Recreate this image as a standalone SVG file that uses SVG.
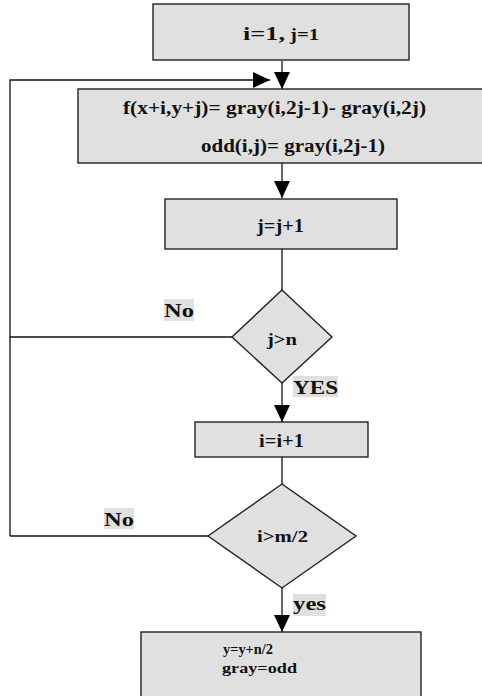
<svg xmlns="http://www.w3.org/2000/svg" width="482" height="696" viewBox="0 0 482 696">
<style>
.box{fill:#e0e0e0;stroke:#222;stroke-width:1.4}
.t{font-family:"Liberation Serif","Times New Roman",serif;font-weight:bold;fill:#111}
.c{fill:none;stroke:#111;stroke-width:1.3}
.lbl{fill:#e0e0e0}
</style>
<defs>
<marker id="ah" markerUnits="userSpaceOnUse" markerWidth="18" markerHeight="16" refX="17" refY="8" orient="auto">
<path d="M0,0 L17,8 L0,16 Z" fill="#000"/>
</marker>
</defs>
<g id="connectors">
<line class="c" x1="282" y1="61" x2="282" y2="89" marker-end="url(#ah)"/>
<polyline class="c" points="232,337 10,337 10,80 270,80" marker-end="url(#ah)"/>
<line class="c" x1="208" y1="536" x2="10" y2="536"/>
<line class="c" x1="10" y1="337" x2="10" y2="536"/>
<line class="c" x1="282" y1="163" x2="282" y2="198" marker-end="url(#ah)"/>
<line class="c" x1="282" y1="249" x2="282" y2="290"/>
<line class="c" x1="282" y1="383" x2="282" y2="422" marker-end="url(#ah)"/>
<line class="c" x1="282" y1="457" x2="282" y2="484"/>
<line class="c" x1="282" y1="588" x2="282" y2="632" marker-end="url(#ah)"/>
<rect class="lbl" x="164" y="299" width="30" height="22"/>
<text class="t" x="164" y="317" font-size="19" textLength="30" lengthAdjust="spacingAndGlyphs">No</text>
<rect class="lbl" x="293" y="376" width="45" height="21"/>
<text class="t" x="293" y="394" font-size="19" textLength="45" lengthAdjust="spacingAndGlyphs">YES</text>
<rect class="lbl" x="104" y="508" width="30" height="21"/>
<text class="t" x="104" y="526" font-size="19" textLength="30" lengthAdjust="spacingAndGlyphs">No</text>
<rect class="lbl" x="293" y="594" width="33" height="22"/>
<text class="t" x="293" y="610" font-size="19" textLength="33" lengthAdjust="spacingAndGlyphs">yes</text>
</g>
<g id="start">
<rect class="box" x="153" y="4" width="256" height="56"/>
<text class="t" x="243" y="40" font-size="19" textLength="42" lengthAdjust="spacingAndGlyphs">i=1,</text>
<text class="t" x="290" y="40" font-size="16" textLength="29" lengthAdjust="spacingAndGlyphs">j=1</text>
</g>
<g id="compute">
<rect class="box" x="78" y="89" width="410" height="74"/>
<text class="t" x="123" y="114" font-size="18" textLength="303" lengthAdjust="spacingAndGlyphs">f(x+i,y+j)= gray(i,2j-1)- gray(i,2j)</text>
<text class="t" x="201" y="152" font-size="18" textLength="184" lengthAdjust="spacingAndGlyphs">odd(i,j)= gray(i,2j-1)</text>
</g>
<g id="incj">
<rect class="box" x="165" y="199" width="232" height="50"/>
<text class="t" x="257" y="232" font-size="18" textLength="47" lengthAdjust="spacingAndGlyphs">j=j+1</text>
</g>
<g id="decj">
<polygon class="box" points="282,290 332,337 282,383 232,337"/>
<text class="t" x="267" y="345" font-size="17" textLength="30" lengthAdjust="spacingAndGlyphs">j&gt;n</text>
</g>
<g id="inci">
<rect class="box" x="195" y="422" width="173" height="35"/>
<text class="t" x="259" y="447" font-size="18" textLength="45" lengthAdjust="spacingAndGlyphs">i=i+1</text>
</g>
<g id="deci">
<polygon class="box" points="282,484 356,536 282,588 208,536"/>
<text class="t" x="257" y="542" font-size="17" textLength="51" lengthAdjust="spacingAndGlyphs">i&gt;m/2</text>
</g>
<g id="end">
<rect class="box" x="141" y="632" width="280" height="70"/>
<text class="t" x="223" y="654" font-size="15.5" textLength="50" lengthAdjust="spacingAndGlyphs">y=y+n/2</text>
<text class="t" x="222" y="673" font-size="15.5" textLength="75" lengthAdjust="spacingAndGlyphs">gray=odd</text>
</g>
</svg>
